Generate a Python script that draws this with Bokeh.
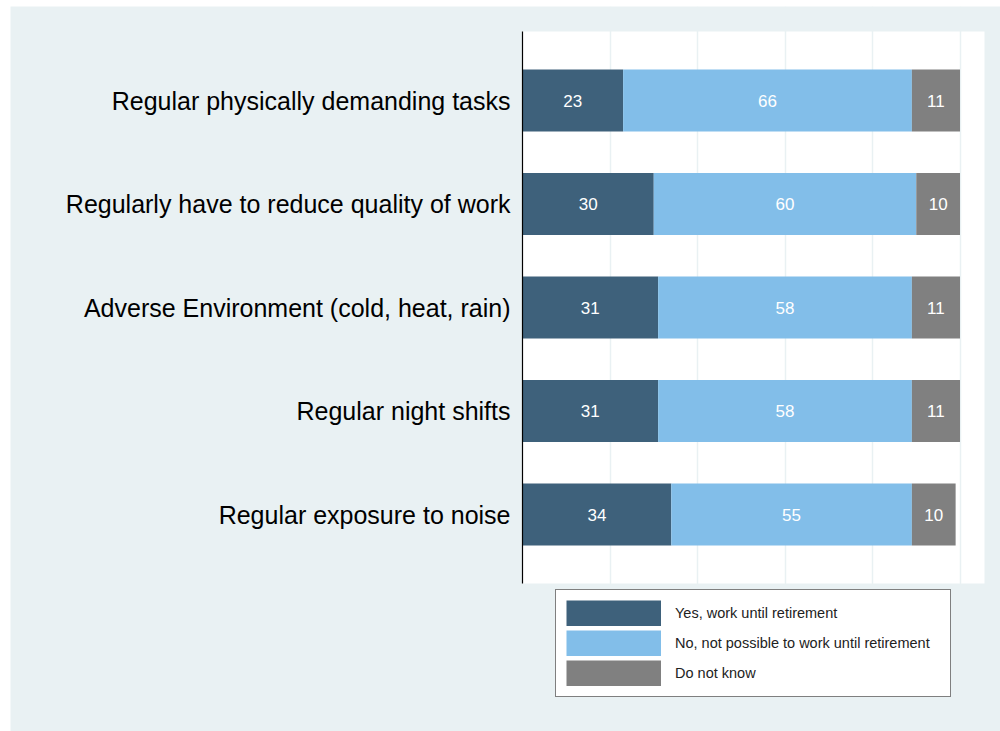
from bokeh.plotting import figure
from bokeh.models import ColumnDataSource, Range1d, FixedTicker, Legend, LegendItem, BoxAnnotation, Grid
from bokeh.embed import file_html
from bokeh.resources import INLINE
from bokeh.core.properties import value

categories = [
    "Regular physically demanding tasks",
    "Regularly have to reduce quality of work",
    "Adverse Environment (cold, heat, rain)",
    "Regular night shifts",
    "Regular exposure to noise",
]
yes_vals = [23, 30, 31, 31, 34]
no_vals = [66, 60, 58, 58, 55]
dk_vals = [11, 10, 11, 11, 10]
series_names = ["Yes, work until retirement",
                "No, not possible to work until retirement",
                "Do not know"]
colors = ["#3E617B", "#82BEE9", "#808080"]
grid_ticks = [20, 40, 60, 80, 100]

n = len(categories)
ypos = [n - i for i in range(n)]

# plot-region extents (data units) and pixel scales
X_MAX = 105.6                      # right edge of the white plot region
Y_LO, Y_HI = 0.333, n + 0.667      # bottom/top of the white plot region
PX_X = 4.375                       # pixels per x unit
PX_Y = 103.5                       # pixels per row
W, H = 990, 725
FRAME_LEFT_PX, FRAME_TOP_PX = 512, 25

x_start = -FRAME_LEFT_PX / PX_X
x_end = (W - FRAME_LEFT_PX) / PX_X
y_end = Y_HI + FRAME_TOP_PX / PX_Y
y_start = y_end - H / PX_Y

src = ColumnDataSource(dict(y=ypos, yes=yes_vals, no=no_vals, dk=dk_vals))

FONT = "Liberation Sans"
BG = "#E9F1F3"

p = figure(width=W, height=H, output_backend="svg", toolbar_location=None,
           x_range=Range1d(x_start, x_end), y_range=Range1d(y_start, y_end),
           x_axis_location=None, y_axis_location=None,
           min_border=0, margin=(6, 0, 0, 10))
p.border_fill_color = BG
p.background_fill_color = BG
p.outline_line_color = None
p.grid.visible = False

# white plot region
p.add_layout(BoxAnnotation(left=0, right=X_MAX, bottom=Y_LO, top=Y_HI,
                           fill_color="white", fill_alpha=1,
                           line_color=None, level="image"))

# vertical grid lines
p.add_layout(Grid(dimension=0, ticker=FixedTicker(ticks=grid_ticks),
                  grid_line_color=BG, grid_line_width=1.5))

rs = p.hbar_stack(["yes", "no", "dk"], y="y", height=0.6, color=colors,
                  source=src, line_color=None)

# y axis line limited to the plot region
p.segment(x0=[0], y0=[Y_LO], x1=[0], y1=[Y_HI], line_color="black", line_width=1.2)

# category labels (y axis)
p.text(x=[0] * n, y=ypos, text=categories, x_offset=-12,
       text_color="black", text_font=value(FONT), text_font_size="25px",
       text_align="right", text_baseline="middle")

# value labels
lab_x, lab_y, lab_t = [], [], []
for i in range(n):
    left = 0
    for v in (yes_vals[i], no_vals[i], dk_vals[i]):
        lab_x.append(left + v / 2)
        lab_y.append(ypos[i])
        lab_t.append(str(v))
        left += v
p.text(x=lab_x, y=lab_y, text=lab_t, text_color="white",
       text_font=value(FONT), text_font_size="17px",
       text_align="center", text_baseline="middle")

# legend swatches: thick butt-capped lines give full-size rectangles
# (single-point lines, so nothing is drawn in the plot itself)
swatches = [p.line(x=[0], y=[Y_LO], line_color=c, line_width=26, line_cap="butt")
            for c in colors]

legend = Legend(items=[LegendItem(label=s, renderers=[r]) for s, r in zip(series_names, swatches)],
                location=(545, 34), orientation="vertical",
                glyph_width=95, glyph_height=26, label_height=26,
                spacing=4, padding=10, margin=0, label_standoff=14,
                label_width=265,
                label_text_font=FONT, label_text_font_size="14.5px",
                label_text_color="#222222",
                border_line_color="black", border_line_width=1.5,
                background_fill_color="white", background_fill_alpha=1)
p.add_layout(legend, "center")

open("out.html", "w").write(file_html(p, INLINE))
